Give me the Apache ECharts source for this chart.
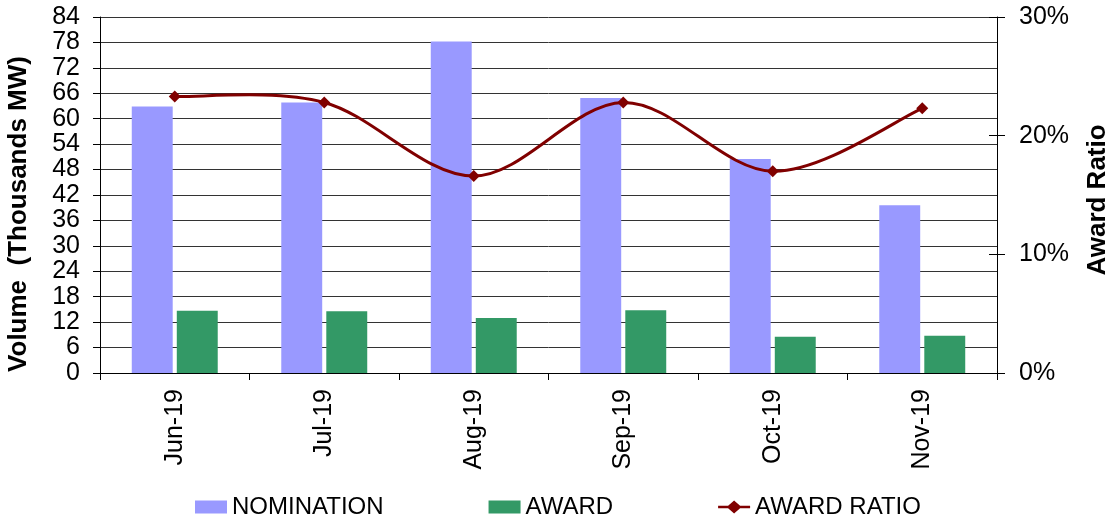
<!DOCTYPE html>
<html>
<head>
<meta charset="utf-8">
<script src="https://cdn.jsdelivr.net/npm/echarts@6/dist/echarts.min.js"></script>
<style>html,body{margin:0;padding:0;background:#fff}#c{width:1110px;height:521px}</style>
</head>
<body>
<div id="c"></div>
<script>
var categories = ['Jun-19', 'Jul-19', 'Aug-19', 'Sep-19', 'Oct-19', 'Nov-19'];
var nomination = [62.9, 63.8, 78.2, 64.9, 50.5, 39.6];
var award = [14.7, 14.55, 13.0, 14.8, 8.55, 8.8];
var awardRatio = [23.3, 22.8, 16.6, 22.8, 17.0, 22.3];
var leftTicks = {min: 0, max: 84, interval: 6};
var rightTicks = {min: 0, max: 30, interval: 10};

var FONT = 'Liberation Sans, Arial, sans-serif';
var LINE_COLOR = '#800000';

function diamond(p, r) {
  return {
    type: 'polygon',
    shape: {points: [[p[0], p[1] - r], [p[0] + r, p[1]], [p[0], p[1] + r], [p[0] - r, p[1]]]},
    style: {fill: LINE_COLOR},
    z2: 10
  };
}

// Excel-like smoothed line (Catmull-Rom style Bezier through points from the axis scales)
function renderRatio(params, api) {
  if (params.dataIndex !== 0) return null;
  var pts = awardRatio.map(function (v, i) { return api.coord([i, v]); });
  var n = pts.length;
  var d = 'M' + pts[0][0] + ',' + pts[0][1];
  for (var i = 0; i < n - 1; i++) {
    var p0 = pts[i > 0 ? i - 1 : i], p1 = pts[i], p2 = pts[i + 1], p3 = pts[i + 2 < n ? i + 2 : i + 1];
    var c1x = p1[0] + (p2[0] - p0[0]) / 6, c1y = p1[1] + (p2[1] - p0[1]) / 6;
    var c2x = p2[0] - (p3[0] - p1[0]) / 6, c2y = p2[1] - (p3[1] - p1[1]) / 6;
    d += ' C' + c1x + ',' + c1y + ' ' + c2x + ',' + c2y + ' ' + p2[0] + ',' + p2[1];
  }
  var children = [{
    type: 'path',
    shape: {pathData: d},
    style: {fill: 'none', stroke: LINE_COLOR, lineWidth: 3}
  }];
  pts.forEach(function (p) { children.push(diamond(p, 6)); });
  return {type: 'group', children: children};
}

var chart = echarts.init(document.getElementById('c'));
chart.setOption({
  animation: false,
  textStyle: {fontFamily: FONT},
  grid: {left: 100, right: 113, top: 17, bottom: 148, containLabel: false, outerBoundsMode: 'none'},
  legend: {
    top: 490, left: 190, itemGap: 105, itemWidth: 32, itemHeight: 13,
    textStyle: {fontSize: 24, color: '#000', fontFamily: FONT},
    data: [
      {name: 'NOMINATION', icon: 'rect'},
      {name: 'AWARD', icon: 'rect'},
      {name: 'AWARD RATIO', icon: 'path://M0,5.3 L10,5.3 L16,0 L22,5.3 L32,5.3 L32,7.7 L22,7.7 L16,13 L10,7.7 L0,7.7 Z'}
    ]
  },
  xAxis: {
    type: 'category', data: categories,
    axisLine: {lineStyle: {color: '#000', width: 1}},
    axisTick: {show: true, length: 7, lineStyle: {color: '#000'}},
    axisLabel: {rotate: 90, margin: 16, fontSize: 25, color: '#000', fontFamily: FONT}
  },
  yAxis: [
    {
      type: 'value', min: leftTicks.min, max: leftTicks.max, interval: leftTicks.interval,
      name: 'Volume  (Thousands MW)', nameLocation: 'middle', nameGap: 68, nameRotate: 90,
      nameTextStyle: {fontSize: 26, fontWeight: 'bold', color: '#000', fontFamily: FONT, padding: [0, 38, 0, 0]},
      axisLine: {show: true, lineStyle: {color: '#000'}},
      axisTick: {show: true, length: 7, lineStyle: {color: '#000'}},
      axisLabel: {fontSize: 25, color: '#000', margin: 20, fontFamily: FONT},
      splitLine: {show: true, lineStyle: {color: '#333', width: 1}}
    },
    {
      type: 'value', position: 'right', min: rightTicks.min, max: rightTicks.max, interval: rightTicks.interval,
      name: 'Award Ratio', nameLocation: 'middle', nameGap: 88, nameRotate: 90,
      nameTextStyle: {fontSize: 26, fontWeight: 'bold', color: '#000', fontFamily: FONT, padding: [0, 10, 0, 0]},
      axisLine: {show: true, lineStyle: {color: '#000'}},
      axisTick: {show: true, length: 8, lineStyle: {color: '#000'}},
      axisLabel: {fontSize: 25, color: '#000', margin: 22, formatter: '{value}%', fontFamily: FONT},
      splitLine: {show: false}
    },
    {
      type: 'value', position: 'right', min: rightTicks.min, max: rightTicks.max, interval: rightTicks.interval,
      axisLine: {show: false},
      axisTick: {show: true, inside: true, length: 8, lineStyle: {color: '#000'}},
      axisLabel: {show: false},
      splitLine: {show: false}
    }
  ],
  series: [
    {
      name: 'NOMINATION', type: 'bar', data: nomination, yAxisIndex: 0,
      barGap: '10%', barCategoryGap: '42.5%',
      itemStyle: {color: '#9999FF'}
    },
    {
      name: 'AWARD', type: 'bar', data: award, yAxisIndex: 0,
      barGap: '10%', barCategoryGap: '42.5%',
      itemStyle: {color: '#339966'}
    },
    {
      name: 'AWARD RATIO', type: 'custom', yAxisIndex: 1, z: 5,
      data: awardRatio.map(function (v, i) { return [i, v]; }),
      encode: {x: 0, y: 1},
      itemStyle: {color: LINE_COLOR},
      renderItem: renderRatio
    }
  ]
});
</script>
</body>
</html>
